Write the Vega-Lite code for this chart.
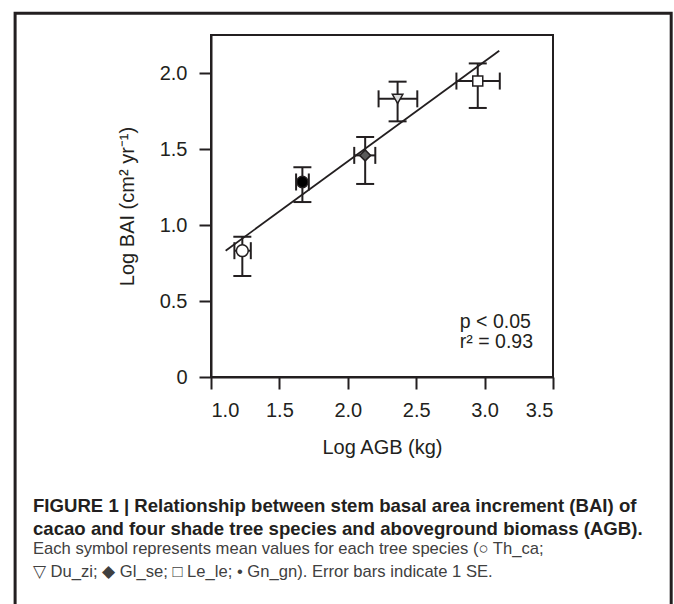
{
  "$schema": "https://vega.github.io/schema/vega-lite/v6.json",
  "width": 342,
  "height": 342,
  "autosize": {"type": "none"},
  "padding": {"left": 211, "top": 35, "right": 121, "bottom": 227},
  "background": "white",
  "config": {
    "font": "Liberation Sans",
    "view": {"stroke": "#231f20", "strokeWidth": 2},
    "axis": {
      "grid": false,
      "domainColor": "#231f20",
      "domainWidth": 2,
      "tickColor": "#231f20",
      "tickWidth": 2,
      "tickSize": 12,
      "labelFont": "Liberation Sans",
      "labelFontSize": 20,
      "labelColor": "#231f20",
      "titleFont": "Liberation Sans",
      "titleFontSize": 20,
      "titleFontWeight": "normal",
      "titleColor": "#231f20"
    }
  },
  "title": {
    "text": ["FIGURE 1 | Relationship between stem basal area increment (BAI) of", "cacao and four shade tree species and aboveground biomass (AGB)."],
    "subtitle": ["Each symbol represents mean values for each tree species (○ Th_ca;", "▽ Du_zi; ◆ Gl_se; □ Le_le; • Gn_gn). Error bars indicate 1 SE."],
    "orient": "bottom",
    "anchor": "start",
    "frame": "group",
    "dx": -178,
    "offset": -117,
    "font": "Liberation Sans",
    "fontSize": 18.6,
    "fontWeight": "bold",
    "color": "#231f20",
    "lineHeight": 22.5,
    "subtitleFont": "Liberation Sans",
    "subtitleFontSize": 16.6,
    "subtitleColor": "#404040",
    "subtitleLineHeight": 22.5,
    "subtitlePadding": 3
  },
  "datasets": {
    "species": [
      {"species": "Th_ca", "x": 1.229, "y": 0.831, "xlo": 1.171, "xhi": 1.291, "ylo": 0.664, "yhi": 0.923},
      {"species": "Gn_gn", "x": 1.668, "y": 1.283, "xlo": 1.622, "xhi": 1.715, "ylo": 1.151, "yhi": 1.380},
      {"species": "Gl_se", "x": 2.127, "y": 1.458, "xlo": 2.047, "xhi": 2.201, "ylo": 1.270, "yhi": 1.579},
      {"species": "Du_zi", "x": 2.364, "y": 1.830, "xlo": 2.225, "xhi": 2.508, "ylo": 1.682, "yhi": 1.943},
      {"species": "Le_le", "x": 2.950, "y": 1.947, "xlo": 2.794, "xhi": 3.111, "ylo": 1.770, "yhi": 2.063}
    ],
    "fit": [
      {"x": 1.107, "y": 0.831},
      {"x": 3.107, "y": 2.147}
    ],
    "notes": [
      {"x": 2.819, "y": 0.324, "label": "p < 0.05"},
      {"x": 2.819, "y": 0.189, "label": "r² = 0.93"}
    ]
  },
  "layer": [
    {
      "data": {"values": [{"frame": 1}]},
      "mark": {"type": "rect", "fill": "transparent", "stroke": "#231f20", "strokeWidth": 3, "clip": false},
      "encoding": {
        "x": {"datum": -0.432, "type": "quantitative", "scale": {"domain": [1, 3.5], "nice": false, "zero": false}, "axis": {"title": "Log AGB (kg)", "values": [1, 1.5, 2, 2.5, 3, 3.5], "format": ".1f", "labelPadding": 11, "titlePadding": 17}},
        "x2": {"datum": 4.364},
        "y": {"datum": 2.393, "type": "quantitative", "scale": {"domain": [0, 2.25], "nice": false, "zero": false}, "axis": {"title": "Log BAI (cm² yr⁻¹)", "values": [0, 0.5, 1, 1.5, 2], "labelExpr": "datum.value == 0 ? '0' : format(datum.value, '.1f')", "labelPadding": 12, "titlePadding": 22}},
        "y2": {"datum": -1.55}
      }
    },
    {
      "data": {"name": "species"},
      "mark": {"type": "rule", "color": "#231f20", "strokeWidth": 2},
      "encoding": {
        "x": {"field": "x", "type": "quantitative", "scale": {"domain": [1, 3.5], "nice": false, "zero": false}, "title": "Log AGB (kg)"},
        "y": {"field": "ylo", "type": "quantitative", "scale": {"domain": [0, 2.25], "nice": false, "zero": false}, "title": "Log BAI (cm² yr⁻¹)"},
        "y2": {"field": "yhi"}
      }
    },
    {
      "data": {"name": "species"},
      "mark": {"type": "rule", "color": "#231f20", "strokeWidth": 2},
      "encoding": {
        "y": {"field": "y", "type": "quantitative", "scale": {"domain": [0, 2.25], "nice": false, "zero": false}, "title": "Log BAI (cm² yr⁻¹)"},
        "x": {"field": "xlo", "type": "quantitative", "scale": {"domain": [1, 3.5], "nice": false, "zero": false}, "title": "Log AGB (kg)"},
        "x2": {"field": "xhi"}
      }
    },
    {
      "data": {"name": "species"},
      "mark": {"type": "tick", "orient": "horizontal", "color": "#231f20", "thickness": 2, "size": 18, "opacity": 1},
      "encoding": {
        "x": {"field": "x", "type": "quantitative", "scale": {"domain": [1, 3.5], "nice": false, "zero": false}, "title": "Log AGB (kg)"},
        "y": {"field": "ylo", "type": "quantitative", "scale": {"domain": [0, 2.25], "nice": false, "zero": false}, "title": "Log BAI (cm² yr⁻¹)"}
      }
    },
    {
      "data": {"name": "species"},
      "mark": {"type": "tick", "orient": "horizontal", "color": "#231f20", "thickness": 2, "size": 18, "opacity": 1},
      "encoding": {
        "x": {"field": "x", "type": "quantitative", "scale": {"domain": [1, 3.5], "nice": false, "zero": false}, "title": "Log AGB (kg)"},
        "y": {"field": "yhi", "type": "quantitative", "scale": {"domain": [0, 2.25], "nice": false, "zero": false}, "title": "Log BAI (cm² yr⁻¹)"}
      }
    },
    {
      "data": {"name": "species"},
      "mark": {"type": "tick", "orient": "vertical", "color": "#231f20", "thickness": 2, "size": 17, "opacity": 1},
      "encoding": {
        "x": {"field": "xlo", "type": "quantitative", "scale": {"domain": [1, 3.5], "nice": false, "zero": false}, "title": "Log AGB (kg)"},
        "y": {"field": "y", "type": "quantitative", "scale": {"domain": [0, 2.25], "nice": false, "zero": false}, "title": "Log BAI (cm² yr⁻¹)"}
      }
    },
    {
      "data": {"name": "species"},
      "mark": {"type": "tick", "orient": "vertical", "color": "#231f20", "thickness": 2, "size": 17, "opacity": 1},
      "encoding": {
        "x": {"field": "xhi", "type": "quantitative", "scale": {"domain": [1, 3.5], "nice": false, "zero": false}, "title": "Log AGB (kg)"},
        "y": {"field": "y", "type": "quantitative", "scale": {"domain": [0, 2.25], "nice": false, "zero": false}, "title": "Log BAI (cm² yr⁻¹)"}
      }
    },
    {
      "data": {"name": "fit"},
      "mark": {"type": "line", "color": "#231f20", "strokeWidth": 1.8},
      "encoding": {
        "x": {"field": "x", "type": "quantitative", "scale": {"domain": [1, 3.5], "nice": false, "zero": false}, "title": "Log AGB (kg)"},
        "y": {"field": "y", "type": "quantitative", "scale": {"domain": [0, 2.25], "nice": false, "zero": false}, "title": "Log BAI (cm² yr⁻¹)"}
      }
    },
    {
      "data": {"name": "species"},
      "mark": {"type": "point", "filled": true, "stroke": "#231f20", "strokeWidth": 1.5, "opacity": 1},
      "encoding": {
        "x": {"field": "x", "type": "quantitative", "scale": {"domain": [1, 3.5], "nice": false, "zero": false}, "title": "Log AGB (kg)"},
        "y": {"field": "y", "type": "quantitative", "scale": {"domain": [0, 2.25], "nice": false, "zero": false}, "title": "Log BAI (cm² yr⁻¹)"},
        "shape": {"field": "species", "type": "nominal", "legend": null, "scale": {"domain": ["Th_ca", "Gn_gn", "Gl_se", "Du_zi", "Le_le"], "range": ["circle", "circle", "diamond", "triangle-down", "square"]}},
        "fill": {"field": "species", "type": "nominal", "legend": null, "scale": {"domain": ["Th_ca", "Gn_gn", "Gl_se", "Du_zi", "Le_le"], "range": ["#ffffff", "#000000", "#5a5a5a", "#dcdcdc", "#ffffff"]}},
        "size": {"field": "species", "type": "nominal", "legend": null, "scale": {"domain": ["Th_ca", "Gn_gn", "Gl_se", "Du_zi", "Le_le"], "range": [140, 100, 200, 260, 140]}}
      }
    },
    {
      "data": {"name": "notes"},
      "mark": {"type": "text", "align": "left", "baseline": "alphabetic", "font": "Liberation Sans", "fontSize": 19.5, "color": "#231f20"},
      "encoding": {
        "x": {"field": "x", "type": "quantitative", "scale": {"domain": [1, 3.5], "nice": false, "zero": false}, "title": "Log AGB (kg)"},
        "y": {"field": "y", "type": "quantitative", "scale": {"domain": [0, 2.25], "nice": false, "zero": false}, "title": "Log BAI (cm² yr⁻¹)"},
        "text": {"field": "label"}
      }
    }
  ]
}
